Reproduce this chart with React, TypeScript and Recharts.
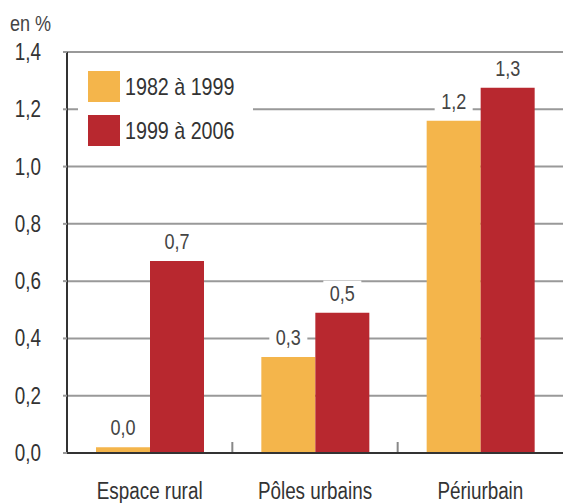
import React from "react";
import {
  BarChart,
  Bar,
  XAxis,
  YAxis,
  CartesianGrid,
  LabelList,
} from "recharts";

const categories = ["Espace rural", "Pôles urbains", "Périurbain"];
const serie1982 = [0.02, 0.335, 1.16];
const serie1999 = [0.67, 0.49, 1.275];
const labels1982 = ["0,0", "0,3", "1,2"];
const labels1999 = ["0,7", "0,5", "1,3"];
const yTicks = [0, 0.2, 0.4, 0.6, 0.8, 1.0, 1.2, 1.4];
const seriesNames = ["1982 à 1999", "1999 à 2006"];

const ORANGE = "#F4B54B";
const RED = "#B8282F";
const FONT = "'Liberation Sans', Arial, sans-serif";
const SQUEEZE = 0.82;

const data = categories.map((c, i) => ({
  cat: c,
  a: serie1982[i],
  b: serie1999[i],
  la: labels1982[i],
  lb: labels1999[i],
}));

// narrow text: the reference uses a condensed face
function NarrowText({ x, y, anchor, size, fill, children }: any) {
  return (
    <text
      transform={`translate(${x},${y}) scale(${SQUEEZE},1)`}
      textAnchor={anchor}
      fontSize={size}
      fontFamily={FONT}
      fill={fill}
    >
      {children}
    </text>
  );
}

function XTick(props: any) {
  const { x, y, payload, index } = props;
  const half = payload.offset || 0;
  return (
    <g>
      {index < categories.length - 1 && half > 0 && (
        <line
          x1={x + half}
          x2={x + half}
          y1={y - 19}
          y2={y - 9}
          stroke="#888"
          strokeWidth={2}
        />
      )}
      <NarrowText x={x} y={y + 38} anchor="middle" size={23} fill="#333">
        {payload.value}
      </NarrowText>
    </g>
  );
}

function YTick(props: any) {
  const { x, y, payload } = props;
  return (
    <NarrowText x={x} y={y + 8} anchor="end" size={23} fill="#333">
      {String(payload.value.toFixed(1)).replace(".", ",")}
    </NarrowText>
  );
}

function ValueLabel(props: any) {
  const { x, y, width, value } = props;
  const cx = x + width / 2;
  return (
    <g>
      <rect x={cx - 19} y={y - 32} width={38} height={24} fill="#fff" />
      <NarrowText x={cx} y={y - 12} anchor="middle" size={22} fill="#444">
        {value}
      </NarrowText>
    </g>
  );
}

function LegendBox() {
  const colors = [ORANGE, RED];
  return (
    <div
      style={{
        position: "absolute",
        left: 78,
        top: 62,
        background: "#fff",
        padding: "9px 10px 2px 10px",
        fontFamily: FONT,
        fontSize: 24,
        color: "#333",
      }}
    >
      {seriesNames.map((n, i) => (
        <div
          key={n}
          style={{
            display: "flex",
            alignItems: "center",
            height: 31,
            marginBottom: 13,
          }}
        >
          <span
            style={{
              width: 32,
              height: 31,
              background: colors[i],
              display: "inline-block",
              marginRight: 5,
            }}
          />
          <span
            style={{
              display: "inline-block",
              transform: `scaleX(${SQUEEZE})`,
              transformOrigin: "left center",
              width: 118,
              whiteSpace: "nowrap",
            }}
          >
            {n}
          </span>
        </div>
      ))}
    </div>
  );
}

export default function App() {
  return (
    <div
      style={{
        position: "absolute",
        left: 0,
        top: 0,
        width: 563,
        height: 503,
        background: "#fff",
      }}
    >
      <BarChart
        width={563}
        height={503}
        data={data}
        margin={{ top: 52, right: 0, left: 0, bottom: 0 }}
        barGap={0}
        barSize={54}
      >
        <CartesianGrid
          vertical={false}
          stroke="#999"
          strokeWidth={2}
          horizontalValues={yTicks}
        />
        <XAxis
          dataKey="cat"
          height={50}
          axisLine={{ stroke: "#333", strokeWidth: 2 }}
          tickLine={false}
          tick={<XTick />}
          interval={0}
        />
        <YAxis
          width={67}
          domain={[0, 1.4]}
          ticks={yTicks}
          axisLine={{ stroke: "#333", strokeWidth: 2 }}
          tickLine={{ stroke: "#999", strokeWidth: 2 }}
          tickSize={4}
          tickMargin={22}
          tick={<YTick />}
        />
        <Bar dataKey="a" fill={ORANGE} isAnimationActive={false}>
          <LabelList dataKey="la" content={ValueLabel} />
        </Bar>
        <Bar dataKey="b" fill={RED} isAnimationActive={false}>
          <LabelList dataKey="lb" content={ValueLabel} />
        </Bar>
      </BarChart>
      <div
        style={{
          position: "absolute",
          left: 10,
          top: 11,
          fontFamily: FONT,
          fontSize: 22,
          color: "#444",
          transform: `scaleX(${SQUEEZE})`,
          transformOrigin: "left top",
        }}
      >
        en %
      </div>
      <LegendBox />
    </div>
  );
}
